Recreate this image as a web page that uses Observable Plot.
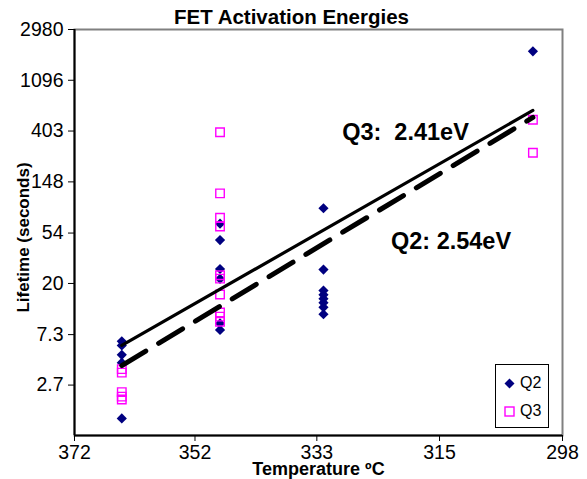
<!DOCTYPE html>
<html>
<head>
<meta charset="utf-8">
<script src="https://cdn.jsdelivr.net/npm/d3@7"></script>
<script src="https://cdn.jsdelivr.net/npm/@observablehq/plot@0.6"></script>
<style>
  html, body { margin: 0; padding: 0; background: #fff; }
  #wrap { position: relative; width: 587px; height: 479px; font-family: "Liberation Sans", Arial, sans-serif; }
  #legend { position: absolute; left: 495px; top: 364px; width: 54px; height: 64px; border: 1px solid #000; background: #fff; box-sizing: border-box; font-size: 16px; color: #000; }
  #legend .item { position: absolute; left: 8px; display: flex; align-items: center; }
  #legend svg { margin-right: 5px; }
</style>
</head>
<body>
<div id="wrap"></div>
<script>
// ---- data ----
const xTickLabels = [372, 352, 333, 315, 298];            // °C, equally spaced in 1000/T
const yTickLabels = [2.7, 7.3, 20, 54, 148, 403, 1096, 2980];

const q2Temp = [364, 364, 364, 364, 364,
                348, 348, 348, 348, 348, 348,
                332, 332, 332, 332, 332, 332, 332, 332,
                302];
const q2Life = [6.4, 5.9, 4.9, 4.2, 1.4,
                65, 47, 26.6, 21.9, 9.1, 8.0,
                88, 26.3, 17.4, 16.0, 14.8, 13.7, 12.5, 10.9,
                1940];

const q3Temp = [364, 364, 364, 364, 364,
                348, 348, 348, 348, 348, 348, 348, 348, 348, 348,
                302, 302];
const q3Life = [3.7, 3.45, 2.35, 2.15, 2.03,
                394, 118, 73, 61.5, 23.5, 22.0, 16.1, 11.3, 10.4, 9.4,
                503, 263];

// trend lines (end points)
const fitTemp = [364, 302];
const q3Fit = [5.9, 605];
const q2Fit = [3.97, 527];

const labels = ["Q3:  2.41eV", "Q2: 2.54eV"];
const labelTemp = [329.2, 322.0];
const labelLife = [335, 39.8];

// ---- build ----
const inv = t => 1000 / (t + 273.15);   // Arrhenius axis: 1000/T(K)
const ln = v => Math.log(v);             // natural-log lifetime axis
const q2 = q2Temp.map((t, i) => ({x: inv(t), y: ln(q2Life[i])}));
const q3 = q3Temp.map((t, i) => ({x: inv(t), y: ln(q3Life[i])}));
const f3 = fitTemp.map((t, i) => ({x: inv(t), y: ln(q3Fit[i])}));
const f2 = fitTemp.map((t, i) => ({x: inv(t), y: ln(q2Fit[i])}));
const ann = labels.map((s, i) => ({x: inv(labelTemp[i]), y: ln(labelLife[i]), s}));

const xDom = [inv(xTickLabels[0]), inv(xTickLabels[xTickLabels.length - 1])];
const yDom = [0, ln(yTickLabels[yTickLabels.length - 1])];
const yTickPos = yTickLabels.map(ln);
const font = "Liberation Sans, Arial, sans-serif";

const chart = Plot.plot({
  width: 587,
  height: 479,
  marginTop: 29,
  marginBottom: 44,
  marginLeft: 74,
  marginRight: 25,
  style: {fontFamily: font, color: "#000", background: "#fff"},
  x: {domain: xDom, label: null},
  y: {domain: yDom, label: null},
  marks: [
    Plot.frame({stroke: "#808080", strokeWidth: 2}),
    Plot.dot(q2, {x: "x", y: "y", symbol: "diamond2", r: 4.6, fill: "#000080", stroke: "none"}),
    Plot.dot(q3, {x: "x", y: "y", symbol: "square", r: 4.8, fill: "none", stroke: "#FF00FF", strokeWidth: 1.4}),
    Plot.line(f3, {x: "x", y: "y", stroke: "#000", strokeWidth: 3.2}),
    Plot.line(f2, {x: "x", y: "y", stroke: "#000", strokeWidth: 5, strokeDasharray: "28,15"}),
    Plot.text(ann, {x: "x", y: "y", text: "s", textAnchor: "start", lineAnchor: "bottom", fontSize: 23.5, fontWeight: "bold", fill: "#000"}),
    Plot.ruleX([xDom[0]], {stroke: "#000", strokeWidth: 2}),
    Plot.ruleY([yDom[0]], {stroke: "#000", strokeWidth: 2}),
    Plot.axisY({ticks: yTickPos, tickFormat: (d) => String(yTickLabels[yTickPos.findIndex(p => Math.abs(p - d) < 1e-9)]), tickSize: 6, tickPadding: 5, fontSize: 19.5, label: null, stroke: "#000"}),
    Plot.axisX({ticks: xTickLabels.map(inv), tickFormat: d => String(Math.round(1000 / d - 273.15)), tickSize: 6, tickPadding: 4, fontSize: 19.5, label: null, stroke: "#000"}),
    Plot.text(["FET Activation Energies"], {text: d => d, frameAnchor: "top", dx: -27, dy: -6, textAnchor: "middle", lineAnchor: "bottom", fontSize: 20.5, fontWeight: "bold", fill: "#000"}),
    Plot.text(["Lifetime (seconds)"], {text: d => d, frameAnchor: "left", dx: -51, dy: 5, textAnchor: "middle", lineAnchor: "middle", rotate: -90, fontSize: 17, fontWeight: "bold", fill: "#000"}),
    Plot.text(["Temperature ºC"], {text: d => d, frameAnchor: "bottom", dy: 34, textAnchor: "middle", lineAnchor: "middle", fontSize: 18, fontWeight: "bold", fill: "#000"})
  ]
});

const wrap = document.getElementById("wrap");
wrap.appendChild(chart);

// legend
const legend = document.createElement("div");
legend.id = "legend";
legend.innerHTML = `
  <div class="item" style="top:9px"><svg width="11" height="11"><path d="M5.5,0.5 L10.5,5.5 L5.5,10.5 L0.5,5.5Z" fill="#000080"/></svg><span>Q2</span></div>
  <div class="item" style="top:37px"><svg width="11" height="11"><rect x="1" y="1" width="9" height="9" fill="none" stroke="#FF00FF" stroke-width="1.4"/></svg><span>Q3</span></div>`;
wrap.appendChild(legend);
</script>
</body>
</html>
